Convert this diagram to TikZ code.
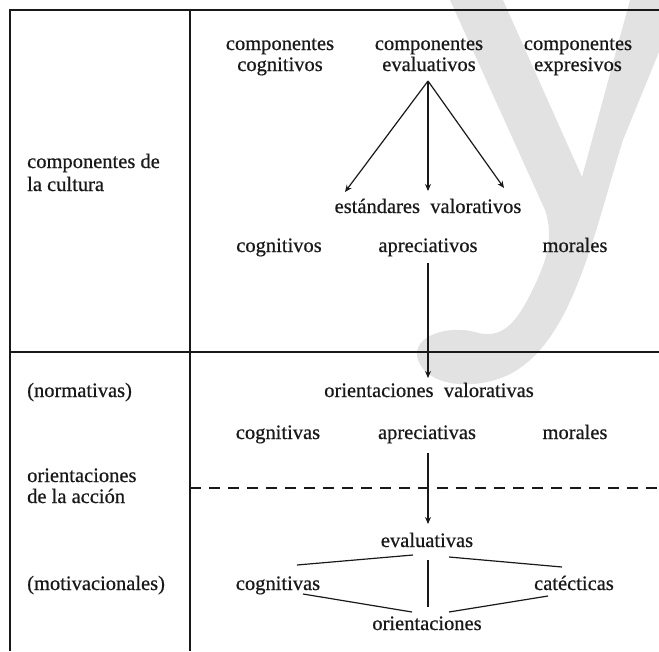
\documentclass[tikz,border=0pt]{standalone}
\usepackage{fontspec}
\setmainfont{Liberation Serif}[FakeBold=0.6]
\usetikzlibrary{arrows.meta}
\definecolor{wm}{RGB}{226,226,226}
\definecolor{ink}{RGB}{25,25,25}
\begin{document}
\begin{tikzpicture}[x=1pt,y=-1pt,
  txt/.style={inner sep=0pt, anchor=base, font=\fontsize{20.5}{22}\selectfont, text=ink},
  ltxt/.style={txt, anchor=base west},
  frame/.style={draw=ink, line width=1.4pt},
  conn/.style={draw=ink, line width=1.2pt},
  arr/.style={conn, -{Stealth[length=7pt,width=6pt]}}]
\useasboundingbox (0,0) rectangle (659,651);
% watermark
\fill[wm] (450,0) -- (503,0) -- (582,177) -- (630,0) -- (659,0) -- (659,52) -- (623,140)
  .. controls (595,230) and (575,330) .. (520,368)
  .. controls (490,390) and (430,392) .. (418,360)
  .. controls (410,335) and (450,325) .. (475,332)
  .. controls (500,340) and (515,325) .. (530,295)
  .. controls (545,265) and (555,240) .. (545,210) -- cycle;
% frame
\draw[frame] (10,651) -- (10,10) -- (659,10);
\draw[frame] (190,10) -- (190,651);
\draw[frame] (10,352) -- (659,352);
\draw[frame, line width=1.1pt, dash pattern=on 11pt off 8pt] (190,488) -- (659,488);
% left labels
\node[ltxt] (l1a) at (27,168) {componentes de};
\node[ltxt] (l1b) at (27,191) {la cultura};
\node[ltxt] (l2) at (27,397) {(normativas)};
\node[ltxt] (l3a) at (27,482) {orientaciones};
\node[ltxt] (l3b) at (27,503) {de la acción};
\node[ltxt] (l4) at (27,590) {(motivacionales)};
% top
\node[txt] (cc1) at (280,50) {componentes};
\node[txt] (cc2) at (280,71) {cognitivos};
\node[txt] (ce1) at (429,50) {componentes};
\node[txt] (ce2) at (429,71) {evaluativos};
\node[txt] (cx1) at (578,50) {componentes};
\node[txt] (cx2) at (578,71) {expresivos};
\node[txt] (est) at (428,213) {estándares\ \ valorativos};
\node[txt] (cog1) at (279,252) {cognitivos};
\node[txt] (apr1) at (428,252) {apreciativos};
\node[txt] (mor1) at (575,252) {morales};
\node[txt] (ori) at (429,397) {orientaciones\ \ valorativas};
\node[txt] (cog2) at (278,439) {cognitivas};
\node[txt] (apr2) at (427,439) {apreciativas};
\node[txt] (mor2) at (575,439) {morales};
\node[txt] (eva) at (427,547) {evaluativas};
\node[txt] (cog3) at (278,590) {cognitivas};
\node[txt] (cat) at (574,590) {catécticas};
\node[txt] (orn) at (427,630) {orientaciones};
% arrows
\coordinate (split) at (428,81);
\coordinate (eL) at (345,192);
\coordinate (eC) at (428,191);
\coordinate (eR) at (504,188);
\draw[arr] (split) -- (eL);
\draw[arr] (split) -- (eC);
\draw[arr] (split) -- (eR);
\coordinate (a1s) at (428,263);
\coordinate (a1e) at (428,378);
\draw[arr] (a1s) -- (a1e);
\coordinate (a2s) at (428,453);
\coordinate (a2e) at (428,524);
\draw[arr] (a2s) -- (a2e);
% lower connectors
\coordinate (p1) at (413,555); \coordinate (p2) at (297,565);
\coordinate (p3) at (449,557); \coordinate (p4) at (562,567);
\coordinate (p5) at (428,560); \coordinate (p6) at (428,607);
\coordinate (p7) at (303,594); \coordinate (p8) at (412,612);
\coordinate (p9) at (449,612); \coordinate (p10) at (548,596);
\draw[conn] (p1) -- (p2);
\draw[conn] (p3) -- (p4);
\draw[conn] (p5) -- (p6);
\draw[conn] (p7) -- (p8);
\draw[conn] (p9) -- (p10);
\end{tikzpicture}
\end{document}
